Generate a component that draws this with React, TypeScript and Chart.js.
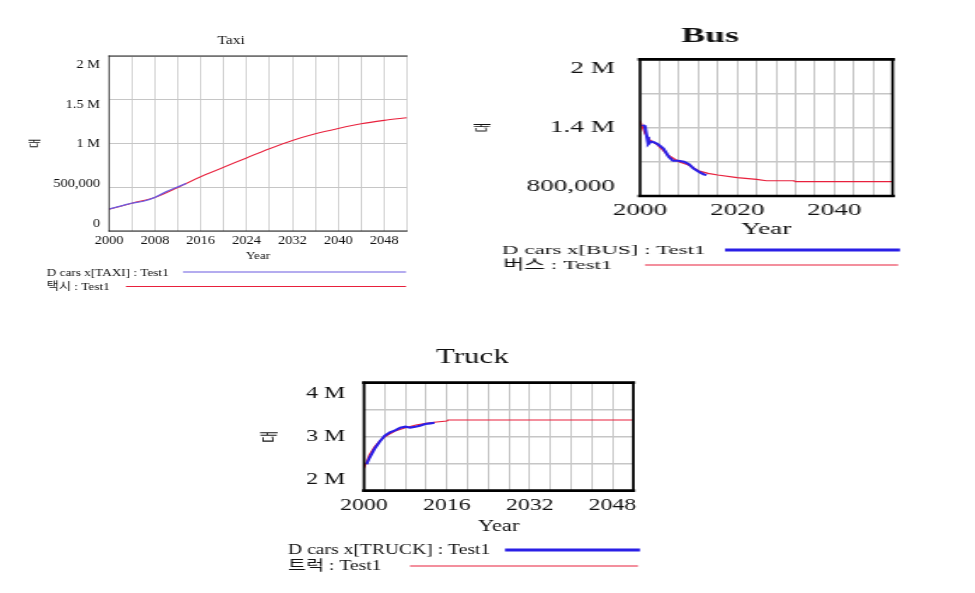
import React, { useEffect, useRef } from 'react';
import { Chart, registerables } from 'chart.js';
Chart.register(...registerables);

// ---------------- data ----------------
const X_MIN = 2000;
const X_MAX = 2052;
const X_GRID_STEP = 4;

const TAXI_DATA_YEARS = [2000, 2002, 2004, 2006, 2008, 2010, 2012, 2013.5];
const TAXI_DATA = [249000, 285000, 318000, 340000, 385000, 450000, 505000, 545000];
const TAXI_SIM_YEARS = [2000, 2004, 2008, 2012, 2016, 2020, 2024, 2028, 2032, 2036, 2040, 2044, 2048, 2052];
const TAXI_SIM = [249000, 318000, 383000, 498000, 621000, 728000, 835000, 939000, 1034000, 1111000, 1172000, 1226000, 1264000, 1295000];
const TAXI_Y_TICKS = [0, 500000, 1000000, 1500000, 2000000];
const TAXI_Y_LABELS = ['0', '500,000', '1 M', '1.5 M', '2 M'];
const TAXI_X_LABELS = [2000, 2008, 2016, 2024, 2032, 2040, 2048];

const BUS_DATA_YEARS = [2000.5, 2001, 2001.4, 2001.7, 2002.2, 2002.6, 2003.6, 2004.8, 2005.9, 2006.8, 2007.9, 2009, 2010, 2011, 2012.1, 2013.1, 2013.7];
const BUS_DATA = [1423000, 1414000, 1321000, 1256000, 1277000, 1277000, 1256000, 1218000, 1145000, 1110000, 1110000, 1101000, 1081000, 1043000, 1013000, 990000, 984000];
const BUS_SIM_YEARS = [2000, 2001, 2002, 2003.6, 2005.7, 2008, 2010, 2012, 2014, 2016, 2020, 2024, 2026, 2031.7, 2032, 2052];
const BUS_SIM = [1461000, 1350000, 1292000, 1248000, 1160000, 1101000, 1072000, 1022000, 999000, 984000, 961000, 946000, 934000, 934000, 926000, 926000];
const BUS_Y_TICKS = [800000, 1400000, 2000000];
const BUS_Y_LABELS = ['800,000', '1.4 M', '2 M'];
const BUS_X_LABELS = [2000, 2020, 2040];

const TRUCK_DATA_YEARS = [2000.5, 2001, 2002, 2003, 2004, 2005, 2006, 2007, 2008, 2008.9, 2009.9, 2010.8, 2011.8, 2012.8, 2013.6];
const TRUCK_DATA = [2489000, 2600000, 2772000, 2908000, 3019000, 3080000, 3117000, 3167000, 3185000, 3167000, 3185000, 3204000, 3235000, 3248000, 3259000];
const TRUCK_SIM_YEARS = [2000, 2001, 2002, 2003, 2004, 2006, 2008, 2010, 2012, 2014, 2016, 2016.2, 2052];
const TRUCK_SIM = [2415000, 2661000, 2815000, 2920000, 3000000, 3105000, 3167000, 3217000, 3248000, 3272000, 3291000, 3309000, 3309000];
const TRUCK_Y_TICKS = [2000000, 3000000, 4000000];
const TRUCK_Y_LABELS = ['2 M', '3 M', '4 M'];
const TRUCK_X_LABELS = [2000, 2016, 2032, 2048];

// ---------------- styles ----------------
const SERIF = "'Liberation Serif', 'Noto Sans CJK KR', serif";
const KR = "'Noto Sans CJK KR', sans-serif";
const TEXT = '#111111';
const RED = '#e8203c';
const BLUE = '#2a1fe6';
const TAXI_BLUE = '#6b5be0';
const GRID = '#c6c6c6';

type Entry = { tx: number; ty: number; lx0: number; lx1: number; ly: number; lw: number };
type Series = { label: string; x: number[]; y: number[]; color: string; width: number; tension: number };
type Cfg = {
  left: number; top: number; W: number; H: number; s: number;
  area: { left: number; right: number; top: number; bottom: number };
  title: string; titleX: number; titleY: number; titleFont: string;
  yMin: number; yMax: number; yStep: number; yTicks: number[]; yLabels: string[];
  dt: number; db: number; yPad: number; yTickFont: number; yTitleFont: number; yTitlePad: number;
  xLabels: number[]; xTickFont: number; xTickPad: number; xAxisH: number; yearFont: number; yearPb: number;
  legendFont: string; legend: Entry[];
  frame: { color: string; w: number; right: boolean };
  grid: { hw: number; vw: number };
  series: Series[];
};

const CHARTS: Cfg[] = [
  {
    left: 20, top: 20, W: 334, H: 280, s: 1.2,
    area: { left: 74.2, right: 322.5, top: 36, bottom: 211 },
    title: 'Taxi', titleX: 176, titleY: 21, titleFont: `13px ${SERIF}`,
    yMin: 0, yMax: 2000000, yStep: 500000, yTicks: TAXI_Y_TICKS, yLabels: TAXI_Y_LABELS,
    dt: 9, db: 7.4, yPad: 7.5, yTickFont: 12, yTitleFont: 10, yTitlePad: 6.5,
    xLabels: TAXI_X_LABELS, xTickFont: 12, xTickPad: 3, xAxisH: 33, yearFont: 11, yearPb: 1,
    legendFont: `11px ${SERIF}`,
    legend: [
      { tx: 22.3, ty: 253, lx0: 135.8, lx1: 321.7, ly: 252, lw: 1.2 },
      { tx: 22.3, ty: 266.7, lx0: 88.3, lx1: 321.7, ly: 266.5, lw: 1 },
    ],
    frame: { color: '#222222', w: 1, right: false },
    grid: { hw: 1, vw: 0.85 },
    series: [
      { label: 'D cars x[TAXI] : Test1', x: TAXI_DATA_YEARS, y: TAXI_DATA, color: TAXI_BLUE, width: 1.3, tension: 0.3 },
      { label: '택시 : Test1', x: TAXI_SIM_YEARS, y: TAXI_SIM, color: RED, width: 1.1, tension: 0.3 },
    ],
  },
  {
    left: 470, top: 20, W: 259, H: 260, s: 1.7,
    area: { left: 100, right: 248.6, top: 39.3, bottom: 176 },
    title: 'Bus', titleX: 141.2, titleY: 17, titleFont: `bold 21px ${SERIF}`,
    yMin: 800000, yMax: 2000000, yStep: 300000, yTicks: BUS_Y_TICKS, yLabels: BUS_Y_LABELS,
    dt: 9, db: 9.3, yPad: 14.7, yTickFont: 16, yTitleFont: 10, yTitlePad: 1,
    xLabels: BUS_X_LABELS, xTickFont: 16, xTickPad: 5, xAxisH: 43, yearFont: 16, yearPb: 0,
    legendFont: `13.5px ${SERIF}`,
    legend: [
      { tx: 18.8, ty: 230, lx0: 150, lx1: 252.9, ly: 230, lw: 3 },
      { tx: 19.4, ty: 245, lx0: 102.9, lx1: 251.8, ly: 245, lw: 1.2 },
    ],
    frame: { color: '#000000', w: 2.7, right: true },
    grid: { hw: 1.5, vw: 1 },
    series: [
      { label: 'D cars x[BUS] : Test1', x: BUS_DATA_YEARS, y: BUS_DATA, color: BLUE, width: 2, tension: 0 },
      { label: '버스 : Test1', x: BUS_SIM_YEARS, y: BUS_SIM, color: RED, width: 1.2, tension: 0 },
    ],
  },
  {
    left: 240, top: 335, W: 300, H: 245, s: 1.4,
    area: { left: 88.6, right: 280.9, top: 47.7, bottom: 155.7 },
    title: 'Truck', titleX: 166, titleY: 22, titleFont: `22px ${SERIF}`,
    yMin: 2000000, yMax: 4000000, yStep: 500000, yTicks: TRUCK_Y_TICKS, yLabels: TRUCK_Y_LABELS,
    dt: 10.6, db: 10.7, yPad: 13.6, yTickFont: 17, yTitleFont: 13, yTitlePad: 12.2,
    xLabels: TRUCK_X_LABELS, xTickFont: 17, xTickPad: 5, xAxisH: 46, yearFont: 16, yearPb: 0.6,
    legendFont: `14px ${SERIF}`,
    legend: [
      { tx: 34.3, ty: 215.7, lx0: 189.3, lx1: 285.7, ly: 215, lw: 3 },
      { tx: 34.3, ty: 231.7, lx0: 121.4, lx1: 284.3, ly: 231, lw: 1.2 },
    ],
    frame: { color: '#000000', w: 2.7, right: true },
    grid: { hw: 1.5, vw: 1.07 },
    series: [
      { label: 'D cars x[TRUCK] : Test1', x: TRUCK_DATA_YEARS, y: TRUCK_DATA, color: BLUE, width: 2.2, tension: 0 },
      { label: '트럭 : Test1', x: TRUCK_SIM_YEARS, y: TRUCK_SIM, color: RED, width: 1.2, tension: 0 },
    ],
  },
];

function decor(c: Cfg) {
  return {
    id: 'decor',
    afterDatasetsDraw(chart: any) {
      const { ctx, chartArea: a } = chart;
      ctx.save();
      ctx.strokeStyle = c.frame.color;
      ctx.lineCap = 'square';
      ctx.lineWidth = c.frame.w;
      ctx.beginPath();
      ctx.moveTo(a.left, a.top); ctx.lineTo(a.right, a.top);
      ctx.moveTo(a.left, a.bottom); ctx.lineTo(a.right, a.bottom);
      ctx.stroke();
      ctx.lineWidth = c.frame.w / c.s;
      ctx.beginPath();
      ctx.moveTo(a.left, a.top); ctx.lineTo(a.left, a.bottom);
      if (c.frame.right) { ctx.moveTo(a.right, a.top); ctx.lineTo(a.right, a.bottom); }
      ctx.stroke();
      ctx.restore();
    },
    afterDraw(chart: any) {
      const { ctx } = chart;
      ctx.save();
      ctx.fillStyle = TEXT;
      ctx.font = c.titleFont;
      ctx.textAlign = 'center';
      ctx.textBaseline = 'middle';
      ctx.fillText(c.title, c.titleX, c.titleY);
      ctx.font = c.legendFont;
      ctx.textAlign = 'left';
      chart.data.datasets.forEach((ds: any, i: number) => {
        const e = c.legend[i];
        ctx.fillStyle = TEXT;
        ctx.fillText(ds.label, e.tx, e.ty);
        ctx.strokeStyle = ds.borderColor;
        ctx.lineWidth = e.lw;
        ctx.beginPath();
        ctx.moveTo(e.lx0, e.ly); ctx.lineTo(e.lx1, e.ly);
        ctx.stroke();
      });
      ctx.restore();
    },
  };
}

function build(canvas: HTMLCanvasElement, c: Cfg) {
  const a = c.area;
  const p = (a.bottom - c.db - (a.top + c.dt)) / (c.yMax - c.yMin);
  return new Chart(canvas, {
    type: 'line',
    data: {
      datasets: c.series.map((s) => ({
        label: s.label,
        data: s.x.map((x, i) => ({ x, y: s.y[i] })),
        borderColor: s.color,
        backgroundColor: s.color,
        borderWidth: s.width,
        pointRadius: 0,
        tension: s.tension,
        fill: false,
      })),
    },
    options: {
      animation: false,
      responsive: false,
      devicePixelRatio: 1,
      events: [],
      layout: {
        autoPadding: false,
        padding: { left: 0, top: a.top, right: c.W - a.right, bottom: c.H - a.bottom - c.xAxisH },
      },
      plugins: { legend: { display: false }, tooltip: { enabled: false }, title: { display: false } },
      scales: {
        x: {
          type: 'linear',
          min: X_MIN,
          max: X_MAX,
          grid: { color: GRID, lineWidth: c.grid.vw, drawTicks: false },
          border: { display: false },
          ticks: {
            stepSize: X_GRID_STEP,
            autoSkip: false,
            maxRotation: 0,
            minRotation: 0,
            padding: c.xTickPad,
            color: TEXT,
            font: { family: SERIF, size: c.xTickFont },
            callback: (v: any) => (c.xLabels.includes(Number(v)) ? String(v) : ''),
          },
          title: {
            display: true,
            text: 'Year',
            color: TEXT,
            font: { family: SERIF, size: c.yearFont },
            padding: { top: 0, bottom: c.yearPb },
          },
          afterFit: (ax: any) => { ax.height = c.xAxisH; },
        },
        y: {
          type: 'linear',
          position: 'left',
          weight: 0,
          min: c.yMin,
          max: c.yMax,
          grid: { color: GRID, lineWidth: c.grid.hw, drawTicks: false },
          border: { display: false },
          ticks: { display: false, stepSize: c.yStep },
          afterFit: (ax: any) => { ax.width = 0; },
        },
        yl: {
          type: 'linear',
          position: 'left',
          weight: 1,
          min: c.yMin - c.db / p,
          max: c.yMax + c.dt / p,
          grid: { display: false, drawTicks: false },
          border: { display: false },
          afterBuildTicks: (ax: any) => { ax.ticks = c.yTicks.map((v) => ({ value: v })); },
          ticks: {
            autoSkip: false,
            padding: c.yPad,
            color: TEXT,
            font: { family: SERIF, size: c.yTickFont },
            callback: (v: any) => {
              const i = c.yTicks.indexOf(Number(v));
              return i >= 0 ? c.yLabels[i] : '';
            },
          },
          title: {
            display: true,
            text: '대',
            color: TEXT,
            font: { family: KR, size: c.yTitleFont },
            padding: { top: c.yTitlePad, bottom: 0 },
          },
          afterFit: (ax: any) => { ax.width = a.left; },
        },
      },
    } as any,
    plugins: [decor(c)],
  });
}

function VChart({ c }: { c: Cfg }) {
  const ref = useRef<HTMLCanvasElement>(null);
  useEffect(() => {
    if (!ref.current) return;
    const chart = build(ref.current, c);
    return () => chart.destroy();
  }, [c]);
  return (
    <div
      style={{
        position: 'absolute',
        left: c.left,
        top: c.top,
        width: c.W,
        height: c.H,
        transform: `scaleX(${c.s})`,
        transformOrigin: '0 0',
      }}
    >
      <canvas ref={ref} width={c.W} height={c.H} style={{ width: c.W, height: c.H, display: 'block' }} />
    </div>
  );
}

export default function App() {
  return (
    <div
      style={{
        position: 'fixed',
        left: 0,
        top: 0,
        width: 975,
        height: 593,
        background: '#ffffff',
        overflow: 'hidden',
      }}
    >
      {CHARTS.map((c, i) => (
        <VChart key={i} c={c} />
      ))}
    </div>
  );
}
